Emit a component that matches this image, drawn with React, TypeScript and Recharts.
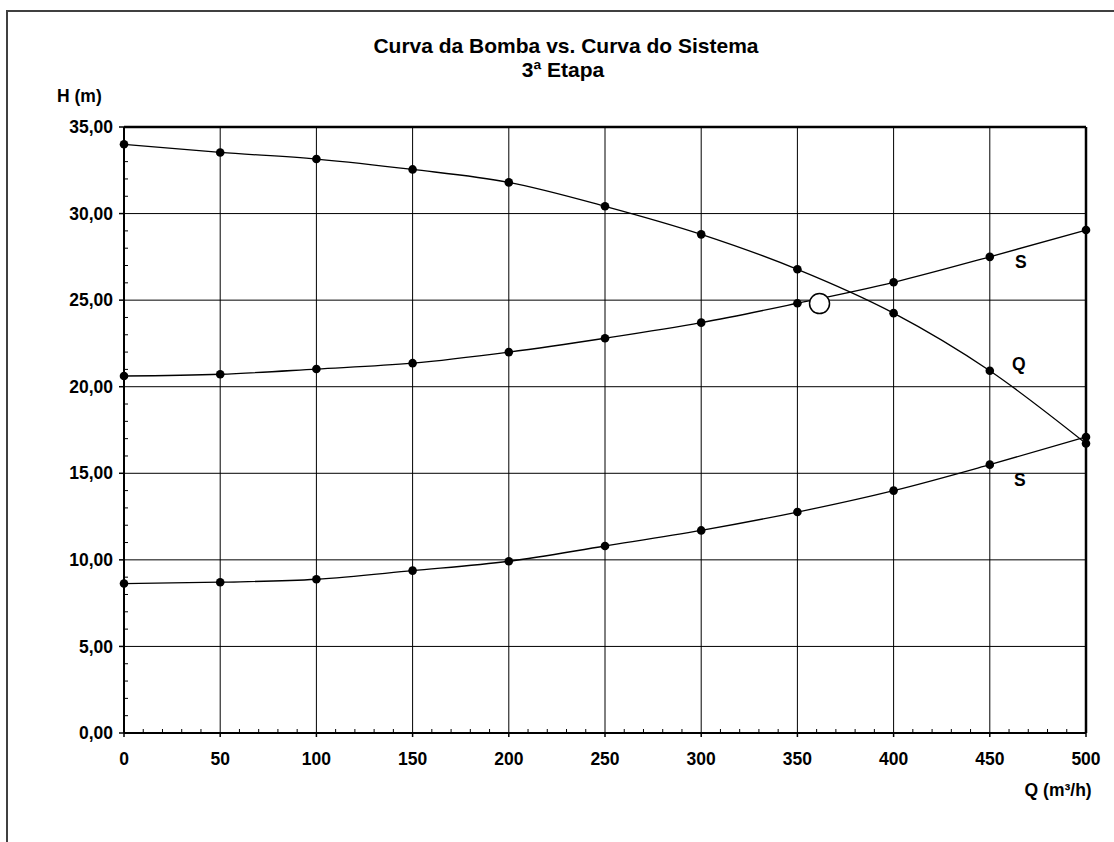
import React from 'react'
import { ComposedChart, Line, Scatter, XAxis, YAxis, CartesianGrid, ReferenceLine } from 'recharts'

const FONT = "'Liberation Sans', Arial, sans-serif"

// vazao Q (m3/h)
const vazoes = [0, 50, 100, 150, 200, 250, 300, 350, 400, 450, 500]
// altura H (m)
const curvaBomba = [34.0, 33.53, 33.15, 32.55, 31.8, 30.42, 28.8, 26.78, 24.25, 20.92, 16.72]
const curvaSistemaSup = [20.62, 20.72, 21.02, 21.36, 22.0, 22.8, 23.7, 24.82, 26.03, 27.5, 29.05]
const curvaSistemaInf = [8.63, 8.71, 8.88, 9.38, 9.92, 10.8, 11.7, 12.76, 14.0, 15.5, 17.1]
const pontoOperacao = [{ q: 361.5, h: 24.8 }]

const xMajor = [0, 50, 100, 150, 200, 250, 300, 350, 400, 450, 500]
const yMajor = [0, 5, 10, 15, 20, 25, 30, 35]
const xMinor = Array.from({ length: 51 }, (_, i) => i * 10)
const yMinor = Array.from({ length: 36 }, (_, i) => i)

const dados = vazoes.map((q, i) => ({
  q,
  bomba: curvaBomba[i],
  sistemaSup: curvaSistemaSup[i],
  sistemaInf: curvaSistemaInf[i],
}))

const txt = { fontFamily: FONT, fontWeight: 700, fontSize: 17.5, fill: '#000' }

const XTick = ({ x, y, payload }: any) => {
  const v = payload.value
  if (v % 50 !== 0) return <line x1={x} x2={x} y1={y} y2={y - 4} stroke="#000" />
  return (
    <g>
      <line x1={x} x2={x} y1={y} y2={y + 4} stroke="#000" strokeWidth={1.5} />
      <text x={x} y={y + 20} dy="0.71em" textAnchor="middle" {...txt}>{v}</text>
    </g>
  )
}

const YTick = ({ x, y, payload }: any) => {
  const v = payload.value
  if (v % 5 !== 0) return <line x1={x} x2={x + 4} y1={y} y2={y} stroke="#000" />
  return (
    <g>
      <line x1={x - 5} x2={x} y1={y} y2={y} stroke="#000" strokeWidth={1.5} />
      <text x={x - 11} y={y} dy="0.355em" textAnchor="end" {...txt}>
        {v.toFixed(2).replace('.', ',')}
      </text>
    </g>
  )
}

// rotulo so no ponto de 450
const rotulo = (letra: string, dx: number, dy: number) => (p: any) => {
  if (p.index !== 9) return <g key={p.index} />
  return (
    <text key={p.index} x={p.x + dx} y={p.y + dy} dy="0.355em" textAnchor="middle" {...txt}>
      {letra}
    </text>
  )
}

const ponto = {
  r: 4.3,
  fill: '#000',
  stroke: '#000',
  strokeWidth: 0,
}

export default function App() {
  return (
    <div style={{ position: 'absolute', left: 0, top: 0, width: 1114, height: 842, background: '#fff' }}>
      <ComposedChart
        width={1114}
        height={842}
        data={dados}
        margin={{ top: 127, right: 28, bottom: 69, left: 0 }}
      >
        <CartesianGrid
          stroke="#000"
          strokeWidth={1}
          verticalValues={xMajor}
          horizontalValues={yMajor}
        />
        <XAxis
          dataKey="q"
          type="number"
          domain={[0, 500]}
          ticks={xMinor}
          interval={0}
          tickSize={0}
          tickMargin={0}
          tickLine={false}
          tick={<XTick />}
          height={40}
          axisLine={{ stroke: '#000', strokeWidth: 2 }}
        />
        <YAxis
          type="number"
          domain={[0, 35]}
          ticks={yMinor}
          interval={0}
          tickSize={0}
          tickMargin={0}
          tickLine={false}
          tick={<YTick />}
          width={124}
          axisLine={{ stroke: '#000', strokeWidth: 2 }}
        />
        <ReferenceLine y={35} stroke="#000" strokeWidth={2.5} />
        <ReferenceLine x={500} stroke="#000" strokeWidth={2.5} />
        <Line
          dataKey="bomba"
          type="monotone"
          stroke="#000"
          strokeWidth={1.3}
          dot={ponto}
          activeDot={false}
          label={rotulo('Q', 29, -7)}
          isAnimationActive={false}
        />
        <Line
          dataKey="sistemaSup"
          type="monotone"
          stroke="#000"
          strokeWidth={1.3}
          dot={ponto}
          activeDot={false}
          label={rotulo('S', 31, 5)}
          isAnimationActive={false}
        />
        <Line
          dataKey="sistemaInf"
          type="monotone"
          stroke="#000"
          strokeWidth={1.3}
          dot={ponto}
          activeDot={false}
          label={rotulo('S', 30, 15)}
          isAnimationActive={false}
        />
        <Scatter
          data={pontoOperacao}
          dataKey="h"
          isAnimationActive={false}
          shape={(p: any) => <circle cx={p.cx} cy={p.cy} r={10} fill="#fff" stroke="#000" strokeWidth={1.5} />}
        />
      </ComposedChart>
      <svg
        width={1114}
        height={842}
        style={{ position: 'absolute', left: 0, top: 0, pointerEvents: 'none' }}
      >
        <line x1={7} y1={11} x2={1114} y2={11} stroke="#404040" strokeWidth={2} />
        <line x1={7} y1={10} x2={7} y2={842} stroke="#404040" strokeWidth={2} />
        <text x={566} y={52.7} textAnchor="middle" {...txt} fontSize={21}>
          Curva da Bomba vs. Curva do Sistema
        </text>
        <text x={563} y={77} textAnchor="middle" {...txt} fontSize={21}>
          3ª Etapa
        </text>
        <text x={57} y={102.3} {...txt}>H (m)</text>
        <text x={1091.7} y={796} textAnchor="end" {...txt}>Q (m³/h)</text>
      </svg>
    </div>
  )
}
